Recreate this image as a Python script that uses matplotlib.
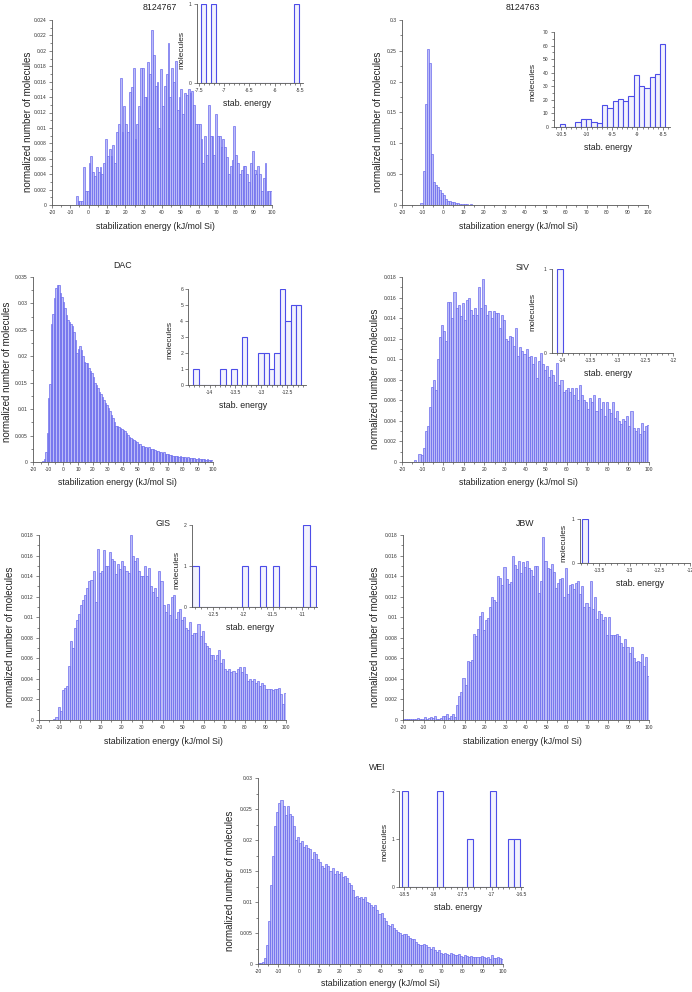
import matplotlib
matplotlib.use("Agg")
import matplotlib.pyplot as plt
import numpy as np
from matplotlib.ticker import MultipleLocator, FuncFormatter

W, H = 692, 992
plt.rcParams['font.family'] = ['Liberation Sans', 'DejaVu Sans']

# 1 kJ/mol bins, left edges -20 ... 99
bins = np.arange(-20, 100)

hist_8124767 = [
    0, 0, 0, 0, 0, 0, 0, 0, 0, 0,
    0, 0, 0, 0.0012, 0.0005, 0.0005, 0.0005, 0.0049, 0.0018, 0.0018,
    0.0055, 0.0063, 0.0043, 0.0037, 0.0049, 0.0043, 0.0049, 0.0040, 0.0055, 0.0085,
    0.0063, 0.0073, 0.0063, 0.0078, 0.0055, 0.0095, 0.0105, 0.0165, 0.0095, 0.0128,
    0.0105, 0.0095, 0.0147, 0.0153, 0.0178, 0.0085, 0.0105, 0.0128, 0.0178, 0.0178,
    0.0140, 0.0140, 0.0185, 0.0170, 0.0227, 0.0195, 0.0155, 0.0160, 0.0100, 0.0177,
    0.0128, 0.0155, 0.0170, 0.0210, 0.0140, 0.0178, 0.0160, 0.0187, 0.0123, 0.0140,
    0.0150, 0.0118, 0.0145, 0.0143, 0.0150, 0.0145, 0.0148, 0.0130, 0.0105, 0.0105,
    0.0105, 0.0085, 0.0055, 0.0090, 0.0065, 0.0130, 0.0090, 0.0090, 0.0065, 0.0118,
    0.0090, 0.0090, 0.0075, 0.0085, 0.0075, 0.0062, 0.0040, 0.0050, 0.0058, 0.0103,
    0.0065, 0.0055, 0.0040, 0.0045, 0.0050, 0.0050, 0.0040, 0.0030, 0.0055, 0.0070,
    0.0045, 0.0040, 0.0050, 0.0040, 0.0018, 0.0035, 0.0055, 0.0018, 0.0018, 0.0018,
]

hist_8124763 = [
    0, 0, 0, 0, 0, 0, 0, 0, 0, 0.004,
    0.055, 0.163, 0.253, 0.230, 0.083, 0.037, 0.033, 0.029, 0.024, 0.020,
    0.017, 0.009, 0.007, 0.006, 0.005, 0.005, 0.004, 0.003, 0.002, 0.0015,
    0.0012, 0.001, 0.0008, 0.001, 0.0008, 0.0006, 0.0008, 0.0005, 0.0007, 0.0004,
    0.0003, 0.0004, 0.0002, 0.0003, 0.0002, 0.0003, 0.0004, 0.0002, 0.0003, 0.0002,
    0.0002, 0.0003, 0.0002, 0.0001, 0.0002, 0.0003, 0.0001, 0.0002, 0.0001, 0.0002,
    0.0001, 0.0003, 0.0001, 0.0002, 0.0001, 0.0001, 0, 0, 0.0001, 0,
    0, 0, 0.0001, 0, 0, 0, 0, 0, 0.0008, 0,
    0, 0, 0, 0, 0, 0, 0, 0, 0, 0,
    0, 0, 0, 0, 0, 0, 0, 0, 0, 0,
    0, 0, 0, 0, 0, 0, 0, 0, 0, 0,
    0, 0, 0, 0, 0, 0, 0, 0, 0, 0,
]

hist_dac = [
    0, 0, 0, 0, 0, 0, 0.0001, 0.0005, 0.0018, 0.0055,
    0.0122, 0.0148, 0.0262, 0.0280, 0.0310, 0.0330, 0.0334, 0.0334, 0.0320, 0.0312,
    0.0303, 0.0292, 0.0278, 0.0268, 0.0265, 0.0262, 0.0258, 0.0246, 0.0230, 0.0207,
    0.0213, 0.0220, 0.0212, 0.0200, 0.0190, 0.0187, 0.0188, 0.0178, 0.0172, 0.0168,
    0.0160, 0.0150, 0.0145, 0.0140, 0.0132, 0.0128, 0.0123, 0.0118, 0.0112, 0.0107,
    0.0102, 0.0097, 0.0088, 0.0083, 0.0075, 0.0069, 0.0068, 0.0067, 0.0064, 0.0062,
    0.0061, 0.0058, 0.0055, 0.0052, 0.0048, 0.0046, 0.0043, 0.0041, 0.0040, 0.0037,
    0.0035, 0.0034, 0.0031, 0.0030, 0.0029, 0.0028, 0.0027, 0.0028, 0.0025, 0.0024,
    0.0024, 0.0022, 0.0020, 0.0021, 0.0019, 0.0018, 0.0017, 0.0018, 0.0015, 0.0016,
    0.0015, 0.0013, 0.0014, 0.0012, 0.0012, 0.0011, 0.0012, 0.0010, 0.0011, 0.0009,
    0.0010, 0.0009, 0.0008, 0.0009, 0.0008, 0.0007, 0.0008, 0.0007, 0.0006, 0.0006,
    0.0007, 0.0005, 0.0006, 0.0005, 0.0006, 0.0004, 0.0005, 0.0003, 0.0004, 0.0003,
]

hist_siv = [
    0, 0, 0, 0, 0, 0, 0.0002, 0, 0.0008, 0.0007,
    0.0014, 0.0030, 0.0035, 0.0054, 0.0073, 0.0080, 0.0070, 0.0100, 0.0122, 0.0133,
    0.0127, 0.0118, 0.0156, 0.0156, 0.0140, 0.0165, 0.0150, 0.0153, 0.0142, 0.0155,
    0.0138, 0.0158, 0.0160, 0.0148, 0.0143, 0.0150, 0.0143, 0.0170, 0.0150, 0.0178,
    0.0153, 0.0143, 0.0147, 0.0140, 0.0147, 0.0145, 0.0145, 0.0130, 0.0143, 0.0138,
    0.0120, 0.0118, 0.0123, 0.0122, 0.0113, 0.0130, 0.0103, 0.0112, 0.0108, 0.0105,
    0.0110, 0.0102, 0.0103, 0.0095, 0.0102, 0.0082, 0.0098, 0.0106, 0.0095, 0.0090,
    0.0093, 0.0083, 0.0090, 0.0085, 0.0078, 0.0096, 0.0075, 0.0080, 0.0068, 0.0070,
    0.0072, 0.0068, 0.0072, 0.0065, 0.0072, 0.0060, 0.0075, 0.0065, 0.0060, 0.0058,
    0.0052, 0.0062, 0.0058, 0.0065, 0.0050, 0.0062, 0.0052, 0.0058, 0.0045, 0.0058,
    0.0052, 0.0048, 0.0058, 0.0043, 0.0050, 0.0040, 0.0037, 0.0042, 0.0040, 0.0045,
    0.0035, 0.0050, 0.0033, 0.0030, 0.0033, 0.0027, 0.0038, 0.0030, 0.0035, 0.0036,
]

hist_gis = [
    0, 0, 0, 0, 0, 0, 0, 0.0001, 0.0003, 0.0013,
    0.0009, 0.0029, 0.0031, 0.0033, 0.0053, 0.0077, 0.0070, 0.0090, 0.0097, 0.0103,
    0.0112, 0.0117, 0.0122, 0.0128, 0.0135, 0.0136, 0.0145, 0.0115, 0.0166, 0.0143,
    0.0145, 0.0165, 0.0150, 0.0150, 0.0163, 0.0157, 0.0155, 0.0142, 0.0152, 0.0147,
    0.0155, 0.0150, 0.0145, 0.0143, 0.0180, 0.0160, 0.0155, 0.0158, 0.0145, 0.0140,
    0.0140, 0.0150, 0.0140, 0.0148, 0.0130, 0.0125, 0.0128, 0.0120, 0.0145, 0.0135,
    0.0112, 0.0105, 0.0113, 0.0102, 0.0120, 0.0122, 0.0098, 0.0105, 0.0108, 0.0097,
    0.0100, 0.0090, 0.0088, 0.0095, 0.0083, 0.0085, 0.0085, 0.0093, 0.0082, 0.0087,
    0.0075, 0.0072, 0.0070, 0.0063, 0.0063, 0.0058, 0.0063, 0.0068, 0.0055, 0.0059,
    0.0050, 0.0048, 0.0050, 0.0047, 0.0048, 0.0046, 0.0050, 0.0052, 0.0047, 0.0052,
    0.0045, 0.0038, 0.0040, 0.0038, 0.0040, 0.0036, 0.0038, 0.0033, 0.0036, 0.0034,
    0.0030, 0.0030, 0.0030, 0.0029, 0.0030, 0.0030, 0.0031, 0.0025, 0.0016, 0.0026,
]

hist_jbw = [
    0.0001, 0.0001, 0.0001, 0.0001, 0.0001, 0.0001, 0.0001, 0.0002, 0.0001, 0.0001,
    0.0003, 0.0001, 0.0002, 0.0003, 0.0002, 0.0004, 0.0001, 0.0001, 0.0002, 0.0004,
    0.0004, 0.0006, 0.0002, 0.0004, 0.0006, 0.0003, 0.0015, 0.0023, 0.0027, 0.0041,
    0.0034, 0.0057, 0.0056, 0.0058, 0.0084, 0.0082, 0.0089, 0.0101, 0.0105, 0.0088,
    0.0097, 0.0099, 0.0110, 0.0120, 0.0117, 0.0115, 0.0140, 0.0138, 0.0131, 0.0149,
    0.0137, 0.0132, 0.0134, 0.0160, 0.0151, 0.0147, 0.0155, 0.0143, 0.0154, 0.0149,
    0.0155, 0.0148, 0.0146, 0.0140, 0.0150, 0.0150, 0.0124, 0.0135, 0.0178, 0.0155,
    0.0148, 0.0147, 0.0152, 0.0144, 0.0128, 0.0133, 0.0137, 0.0138, 0.0120, 0.0148,
    0.0123, 0.0131, 0.0132, 0.0127, 0.0133, 0.0135, 0.0123, 0.0130, 0.0110, 0.0114,
    0.0110, 0.0135, 0.0108, 0.0120, 0.0098, 0.0106, 0.0103, 0.0097, 0.0100, 0.0083,
    0.0100, 0.0083, 0.0083, 0.0083, 0.0084, 0.0082, 0.0075, 0.0071, 0.0079, 0.0071,
    0.0065, 0.0071, 0.0060, 0.0056, 0.0057, 0.0056, 0.0064, 0.0053, 0.0061, 0.0043,
]

hist_wei = [
    0.0001, 0.0002, 0.0004, 0.0010, 0.0030, 0.0070, 0.0127, 0.0175, 0.0222, 0.0245,
    0.0260, 0.0265, 0.0255, 0.0240, 0.0255, 0.0242, 0.0238, 0.0222, 0.0200, 0.0205,
    0.0195, 0.0198, 0.0188, 0.0192, 0.0187, 0.0185, 0.0170, 0.0180, 0.0178, 0.0170,
    0.0165, 0.0158, 0.0155, 0.0162, 0.0158, 0.0150, 0.0155, 0.0145, 0.0150, 0.0145,
    0.0148, 0.0140, 0.0142, 0.0138, 0.0130, 0.0128, 0.0120, 0.0108, 0.0110, 0.0107,
    0.0108, 0.0105, 0.0108, 0.0100, 0.0098, 0.0095, 0.0092, 0.0095, 0.0087, 0.0080,
    0.0082, 0.0075, 0.0070, 0.0063, 0.0062, 0.0065, 0.0058, 0.0055, 0.0052, 0.0050,
    0.0047, 0.0049, 0.0048, 0.0045, 0.0042, 0.0040, 0.0041, 0.0035, 0.0033, 0.0030,
    0.0030, 0.0032, 0.0030, 0.0028, 0.0024, 0.0027, 0.0023, 0.0020, 0.0022, 0.0018,
    0.0016, 0.0017, 0.0016, 0.0015, 0.0018, 0.0016, 0.0014, 0.0015, 0.0016, 0.0013,
    0.0012, 0.0014, 0.0013, 0.0012, 0.0013, 0.0011, 0.0012, 0.0012, 0.0011, 0.0013,
    0.0012, 0.0010, 0.0012, 0.0008, 0.0014, 0.0010, 0.0009, 0.0012, 0.0009, 0.0008,
]

# inset histograms: first bin edge, bin width, counts
ins_8124767 = (-7.47, 0.098, [1, 0, 1, 0, 0, 0, 0, 0, 0, 0, 0, 0, 0, 0, 0, 0, 0, 0, 0, 1])
ins_8124763 = (-10.53, 0.104, [2, 0, 0, 4, 6, 6, 4, 3, 16, 14, 19, 21, 19, 23, 38, 30, 29, 37, 39, 61])
ins_dac = (-14.31, 0.104, [1, 0, 0, 0, 0, 1, 0, 1, 0, 3, 0, 0, 2, 2, 1, 2, 6, 4, 5, 5])
ins_siv = (-14.10, 0.11, [1])
ins_gis = (-12.847, 0.1036, [1, 0, 0, 0, 0, 0, 0, 0, 1, 0, 0, 1, 0, 1, 0, 0, 0, 0, 2, 1])
ins_jbw = (-13.79, 0.11, [1])
ins_wei = (-18.54, 0.101, [2, 0, 0, 0, 0, 0, 2, 0, 0, 0, 0, 1, 0, 0, 0, 2, 0, 0, 1, 1])

for h in [hist_8124767, hist_8124763, hist_dac, hist_siv, hist_gis, hist_jbw, hist_wei]:
    assert len(h) == len(bins)

BAR_FACE = '#bcbcf8'
BAR_EDGE = '#6060ec'
INS_FACE = '#f2f2fd'
INS_EDGE = '#4d4de8'
TXT = '#222222'


def box(x0, y0, x1, y1):
    # pixel box (top-left origin) -> figure fraction
    return [x0 / W, 1 - y1 / H, (x1 - x0) / W, (y1 - y0) / H]


def label(fig, x, y, s, size, rot=0):
    fig.text(x / W, 1 - y / H, s, fontsize=size, rotation=rot,
             ha='center', va='center', color=TXT)


def style(ax):
    for side in ['top', 'right']:
        ax.spines[side].set_visible(False)
    for side in ['left', 'bottom']:
        ax.spines[side].set_color('#555555')
        ax.spines[side].set_linewidth(0.6)
    ax.tick_params(which='both', direction='out', color='#555555', width=0.5,
                   labelsize=3.6, labelcolor='#333333', pad=1.5)
    ax.tick_params(which='major', length=2.2)
    ax.tick_params(which='minor', length=1.1)
    fmt = FuncFormatter(lambda v, p: f'{v:g}')
    ax.xaxis.set_major_formatter(fmt)
    ax.yaxis.set_major_formatter(fmt)
    ax.patch.set_alpha(0)


def main_panel(fig, pos, values, ymax, ystep, title, tpos, ypos, xpos):
    ax = fig.add_axes(box(*pos))
    ax.bar(bins, values, width=1, align='edge', color=BAR_FACE,
           edgecolor=BAR_EDGE, linewidth=0.45)
    ax.set_xlim(-20, 100)
    ax.set_ylim(0, ymax)
    ax.xaxis.set_major_locator(MultipleLocator(10))
    ax.xaxis.set_minor_locator(MultipleLocator(5))
    ax.yaxis.set_major_locator(MultipleLocator(ystep))
    ax.yaxis.set_minor_locator(MultipleLocator(ystep / 2))
    style(ax)
    label(fig, *tpos, title, 6.3)
    label(fig, *ypos, 'normalized number of molecules', 7, 90)
    label(fig, *xpos, 'stabilization energy (kJ/mol Si)', 6.3)


def inset(fig, pos, data, xlim, ymax, ystep, ypos, xpos):
    start, width, counts = data
    ax = fig.add_axes(box(*pos))
    lefts = start + width * np.arange(len(counts))
    ax.bar(lefts, counts, width=width, align='edge', color=INS_FACE,
           edgecolor=INS_EDGE, linewidth=0.8)
    ax.set_xlim(*xlim)
    ax.set_ylim(0, ymax)
    ax.xaxis.set_major_locator(MultipleLocator(0.5))
    ax.xaxis.set_minor_locator(MultipleLocator(0.1))
    ax.yaxis.set_major_locator(MultipleLocator(ystep))
    if ystep > 1:
        ax.yaxis.set_minor_locator(MultipleLocator(ystep / 2))
    style(ax)
    label(fig, *ypos, 'molecules', 6, 90)
    label(fig, *xpos, 'stab. energy', 6.3)


fig = plt.figure(figsize=(W / 100, H / 100), dpi=100)

main_panel(fig, (52, 20, 272, 205), hist_8124767, 0.024, 0.002, '8124767',
           (160, 8), (28, 122), (155, 227))
inset(fig, (196.7, 4, 303.3, 83), ins_8124767, (-7.55, -5.43), 1, 1,
      (182, 50), (247, 104))

main_panel(fig, (402, 20, 648, 205), hist_8124763, 0.3, 0.05, '8124763',
           (523, 8), (378, 122), (518, 227))
inset(fig, (553.5, 32, 669.5, 127), ins_8124763, (-10.65, -8.37), 70, 10,
      (533, 82), (608, 148))

main_panel(fig, (33, 277, 213, 462), hist_dac, 0.035, 0.005, 'DAC',
           (123, 266), (7, 372), (117, 483))
inset(fig, (188.3, 289, 306, 385), ins_dac, (-14.41, -12.14), 6, 1,
      (170, 340), (243, 406))

main_panel(fig, (402, 277, 649, 462), hist_siv, 0.018, 0.002, 'SIV',
           (523, 267), (375, 379), (518, 483))
inset(fig, (551.7, 269, 673.3, 353), ins_siv, (-14.19, -12.0), 1, 1,
      (533, 312), (608, 373))

main_panel(fig, (39, 535, 286, 720), hist_gis, 0.018, 0.002, 'GIS',
           (163, 523), (10, 637), (163, 742))
inset(fig, (191.7, 525, 316.7, 607), ins_gis, (-12.86, -10.76), 2, 1,
      (177, 570), (250, 628))

main_panel(fig, (403, 535, 649, 720), hist_jbw, 0.018, 0.002, 'JBW',
           (525, 523), (375, 637), (522, 742))
inset(fig, (580, 519, 690, 563), ins_jbw, (-13.82, -12.0), 1, 1,
      (564, 543), (640, 583))

main_panel(fig, (258, 778, 503, 964), hist_wei, 0.03, 0.005, 'WEI',
           (377, 768), (230, 881), (380, 983))
inset(fig, (399.3, 791, 522.7, 887), ins_wei, (-18.58, -16.47), 2, 1,
      (385, 842), (458, 908))

fig.savefig('out.png', dpi=100)
